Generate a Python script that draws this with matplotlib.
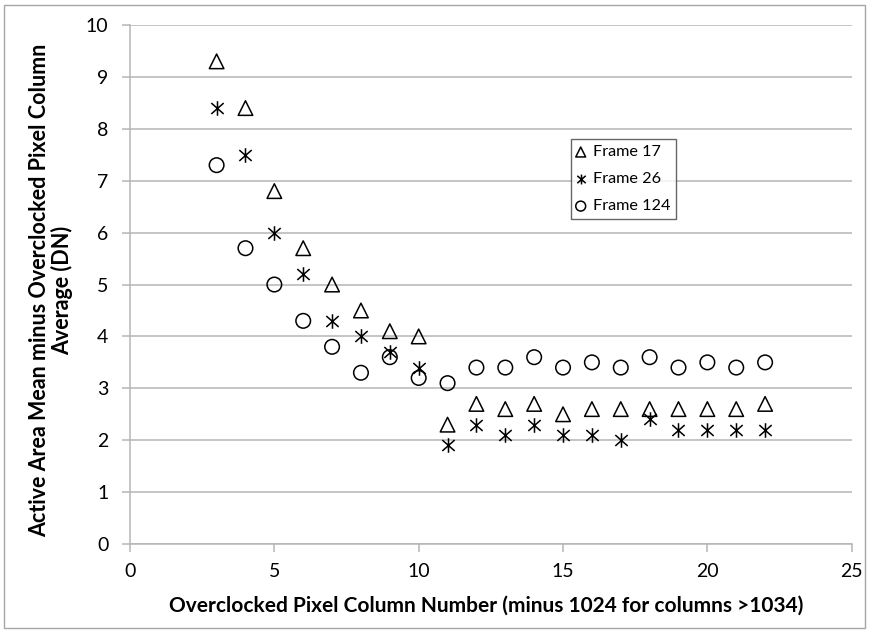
import numpy as np
import matplotlib.pyplot as plt
from matplotlib.path import Path
from matplotlib.patches import Rectangle

plt.rcParams['font.family'] = ['Lato', 'DejaVu Sans']

# data
columns = list(range(3, 23))
frame17 = [9.3, 8.4, 6.8, 5.7, 5.0, 4.5, 4.1, 4.0, 2.3, 2.7,
           2.6, 2.7, 2.5, 2.6, 2.6, 2.6, 2.6, 2.6, 2.6, 2.7]
frame26 = [8.4, 7.5, 6.0, 5.2, 4.3, 4.0, 3.7, 3.4, 1.9, 2.3,
           2.1, 2.3, 2.1, 2.1, 2.0, 2.4, 2.2, 2.2, 2.2, 2.2]
frame124 = [7.3, 5.7, 5.0, 4.3, 3.8, 3.3, 3.6, 3.2, 3.1, 3.4,
            3.4, 3.6, 3.4, 3.5, 3.4, 3.6, 3.4, 3.5, 3.4, 3.5]
labels = ['Frame 17', 'Frame 26', 'Frame 124']

# excel-style star: vertical bar plus an X
star = Path([(0, -1), (0, 1), (-0.85, -0.75), (0.85, 0.75), (-0.85, 0.75), (0.85, -0.75)],
            [Path.MOVETO, Path.LINETO, Path.MOVETO, Path.LINETO, Path.MOVETO, Path.LINETO])

fig = plt.figure(figsize=(8.69, 6.32), dpi=100)
ax = fig.add_axes([0.1496, 0.1392, 0.8305, 0.8212])

ax.scatter(columns, frame17, marker='^', s=110, facecolors='none', edgecolors='black',
           linewidths=1.1, label=labels[0], zorder=3)
ax.scatter(columns, frame26, marker=star, s=110, color='black', linewidths=1.1,
           label=labels[1], zorder=3)
ax.scatter(columns, frame124, marker='o', s=110, facecolors='none', edgecolors='black',
           linewidths=1.1, label=labels[2], zorder=3)

ax.set_xlim(0, 25)
ax.set_ylim(0, 10)
ax.set_xticks(np.arange(0, 26, 5))
ax.set_yticks(np.arange(0, 11, 1))
ax.grid(axis='y', color='#b5b5b5', linewidth=1.1)
ax.set_axisbelow(True)
for s in ['top', 'right']:
    ax.spines[s].set_visible(False)
for s in ['left', 'bottom']:
    ax.spines[s].set_color('#b5b5b5')
    ax.spines[s].set_linewidth(1.1)
ax.tick_params(axis='both', labelsize=14, color='#b5b5b5', labelcolor='black',
               length=5.5, width=1.1, pad=10)
ax.tick_params(axis='x', pad=8)

ax.set_xlabel('Overclocked Pixel Column Number (minus 1024 for columns >1034)',
              fontsize=15, fontweight='bold', va='center')
ax.xaxis.set_label_coords(0.493, -0.1195)
ax.set_ylabel('Active Area Mean minus Overclocked Pixel Column\nAverage (DN)',
              fontsize=15.5, fontweight='bold', va='center', linespacing=1.05)
ax.yaxis.set_label_coords(-0.1088, 0.489)

leg = ax.legend(loc='upper left', bbox_to_anchor=(0.611, 0.780), fontsize=11.7,
                frameon=True, fancybox=False, edgecolor='#404040', handletextpad=0.5,
                borderpad=0.35, labelspacing=0.78, handlelength=0.5, markerscale=0.68,
                borderaxespad=0)
leg.get_frame().set_linewidth(1.0)

fig.patches.append(Rectangle((0.005, 0.006), 0.99, 0.986, transform=fig.transFigure,
                             fill=False, edgecolor='#a6a6a6', linewidth=1))

fig.savefig('out.png', dpi=100)
